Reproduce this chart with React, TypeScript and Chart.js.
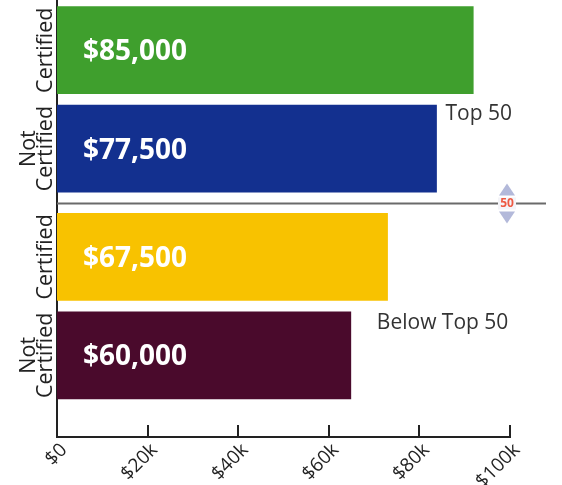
import React, { useEffect, useRef } from "react";
import { Chart, registerables } from "chart.js";

Chart.register(...registerables);

// ---- data ----
const rowLabels: string[][] = [["Certified"], ["Not", "Certified"], ["Certified"], ["Not", "Certified"]];
const groups: string[] = ["Top 50", "Top 50", "Below Top 50", "Below Top 50"];
const salaries: number[] = [85000, 77500, 67500, 60000];
const valueLabels: string[] = ["$85,000", "$77,500", "$67,500", "$60,000"];
const barColors: string[] = ["#3f9f2d", "#13308f", "#f8c200", "#4a0a2c"];
const tickLabels: string[] = ["$0", "$20k", "$40k", "$60k", "$80k", "$100k"];
const dividerMark = "50";

// layout constants (not data)
const X_MAX = 92500;
const GROUP_GAP = 0.1;
const FONT = "'Open Sans', 'Noto Sans', sans-serif";

const rowPos = rowLabels.map((_, i) => i + (groups[i] === groups[0] ? 0 : GROUP_GAP));

const overlay = {
  id: "overlay",
  afterDatasetsDraw(chart: any) {
    const ctx = chart.ctx as CanvasRenderingContext2D;
    const xs = chart.scales.x;
    const meta = chart.getDatasetMeta(0);
    const area = chart.chartArea;
    ctx.save();

    // value labels inside bars
    ctx.fillStyle = "#ffffff";
    ctx.font = `bold 28px ${FONT}`;
    ctx.textAlign = "left";
    ctx.textBaseline = "middle";
    meta.data.forEach((bar: any, i: number) => {
      ctx.fillText(valueLabels[i], xs.getPixelForValue(0) + 26, bar.y + 2);
    });

    // rotated row labels
    ctx.fillStyle = "#222222";
    ctx.font = `21.5px ${FONT}`;
    ctx.textAlign = "center";
    ctx.textBaseline = "alphabetic";
    meta.data.forEach((bar: any, i: number) => {
      const lines = rowLabels[i];
      ctx.save();
      ctx.translate(area.left - 5, bar.y);
      ctx.rotate(-Math.PI / 2);
      for (let k = 0; k < lines.length; k++) {
        const off = (lines.length - 1 - k) * 17;
        ctx.fillText(lines[k], 0, -off);
      }
      ctx.restore();
    });

    // inner tick marks on the x axis
    ctx.strokeStyle = "#222222";
    ctx.lineWidth = 2;
    xs.ticks.forEach((t: any) => {
      const px = Math.round(xs.getPixelForValue(t.value));
      ctx.beginPath();
      ctx.moveTo(px, area.bottom);
      ctx.lineTo(px, area.bottom - 12);
      ctx.stroke();
    });

    // divider between groups
    const b1: any = meta.data[1];
    const b2: any = meta.data[2];
    const divY = Math.round((b1.y + b1.height / 2 + b2.y - b2.height / 2) / 2) + 0.5;
    ctx.strokeStyle = "#6a6a6a";
    ctx.lineWidth = 2;
    ctx.beginPath();
    ctx.moveTo(area.left, divY);
    ctx.lineTo(area.right + 36, divY);
    ctx.stroke();

    // divider marker
    const mx = area.right - 3;
    ctx.fillStyle = "#b3b9da";
    ctx.beginPath();
    ctx.moveTo(mx, divY - 20);
    ctx.lineTo(mx - 8, divY - 8);
    ctx.lineTo(mx + 8, divY - 8);
    ctx.closePath();
    ctx.fill();
    ctx.beginPath();
    ctx.moveTo(mx, divY + 20);
    ctx.lineTo(mx - 8, divY + 8);
    ctx.lineTo(mx + 8, divY + 8);
    ctx.closePath();
    ctx.fill();
    ctx.fillStyle = "#f4f4f8";
    ctx.fillRect(mx - 9, divY - 6, 18, 12);
    ctx.fillStyle = "#ee5a44";
    ctx.font = `bold 12px ${FONT}`;
    ctx.textAlign = "center";
    ctx.textBaseline = "middle";
    ctx.fillText(dividerMark, mx, divY + 0.5);

    // group annotations
    ctx.fillStyle = "#333333";
    ctx.font = `21px ${FONT}`;
    ctx.textAlign = "left";
    ctx.textBaseline = "middle";
    const blue: any = meta.data[1];
    ctx.fillText(groups[1], blue.x + 9, blue.y - blue.height / 2 + 9);
    const last: any = meta.data[3];
    ctx.fillText(groups[3], last.x + 26, last.y - last.height / 2 + 11);

    ctx.restore();
  },
};

export default function App() {
  const ref = useRef<HTMLCanvasElement | null>(null);
  useEffect(() => {
    document.body.style.margin = "0";
    const canvas = ref.current;
    if (!canvas) return;
    const chart = new Chart(canvas, {
      type: "bar",
      data: {
        datasets: [
          {
            data: salaries.map((v, i) => ({ x: v, y: rowPos[i] })),
            backgroundColor: barColors,
            borderWidth: 0,
            barThickness: 87,
          } as any,
        ],
      },
      options: {
        indexAxis: "y",
        responsive: false,
        animation: false,
        layout: { padding: { left: 57, right: 52, top: 0, bottom: 0 } },
        plugins: { legend: { display: false }, tooltip: { enabled: false } },
        scales: {
          x: {
            type: "linear",
            min: 0,
            max: X_MAX,
            afterBuildTicks: (scale: any) => {
              scale.ticks = tickLabels.map((_, i) => ({ value: (i * X_MAX) / (tickLabels.length - 1) }));
            },
            afterFit: (scale: any) => {
              scale.height = 48;
            },
            ticks: {
              callback: (_v: any, i: number) => tickLabels[i],
              minRotation: 45,
              maxRotation: 45,
              autoSkip: false,
              color: "#222222",
              font: { family: FONT, size: 19 },
              padding: 2,
              labelOffset: 7,
            },
            grid: { display: false, drawTicks: false },
            border: { display: true, color: "#222222", width: 2 },
          },
          y: {
            type: "linear",
            reverse: true,
            offset: false,
            min: -0.51,
            max: 3.93,
            afterFit: (scale: any) => {
              scale.width = 0;
            },
            ticks: { display: false },
            grid: { display: false, drawTicks: false, offset: false },
            border: { display: true, color: "#222222", width: 2 },
          },
        },
      } as any,
      plugins: [overlay],
    });
    return () => chart.destroy();
  }, []);
  return (
    <div style={{ width: 562, height: 485, background: "#fff" }}>
      <canvas ref={ref} width={562} height={485} />
    </div>
  );
}
